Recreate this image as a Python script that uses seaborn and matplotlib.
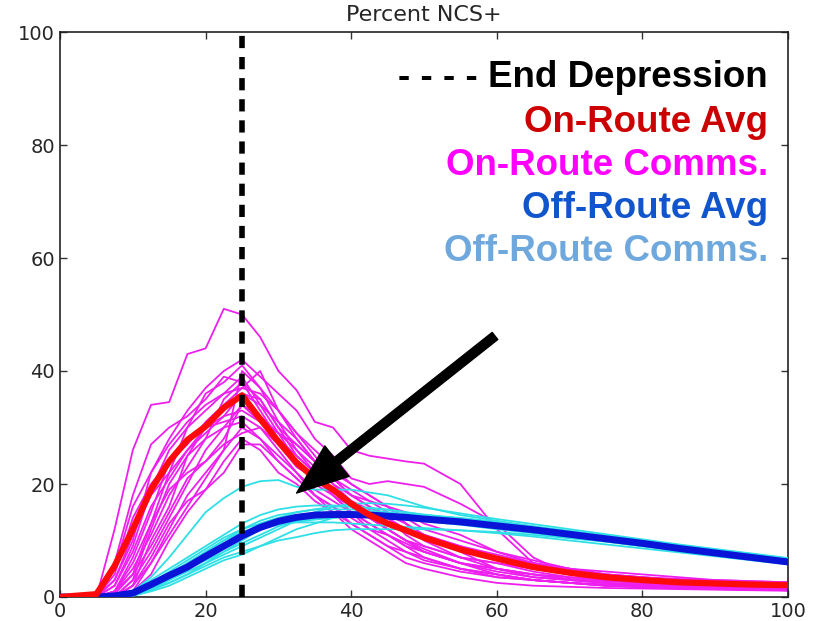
import numpy as np
import pandas as pd
import matplotlib
matplotlib.use("Agg")
import matplotlib.pyplot as plt
import seaborn as sns

# Shared sample positions along the x axis
x_grid = [0, 5, 7.5, 10, 12.5, 15, 17.5, 20, 22.5, 25, 27.5, 30, 32.5, 35, 37.5,
          40, 42.5, 45, 47.5, 50, 55, 60, 65, 70, 75, 80, 85, 90, 95, 100]

on_route_avg = [0, 0.5, 5.5, 12, 19, 24, 27.8, 30.2, 33.5, 35.7, 31.5, 27.5, 23.8, 21, 19,
                16.5, 14.5, 13, 11.8, 10.5, 8.4, 6.8, 5.3, 4.3, 3.5, 3.0, 2.6, 2.4, 2.2, 2.1]

off_route_avg = [0, 0, 0.2, 0.7, 2.2, 3.8, 5.3, 7.2, 9, 10.8, 12.3, 13.4, 14.1, 14.5, 14.6,
                 14.6, 14.5, 14.3, 14.1, 13.8, 13.3, 12.6, 11.9, 11.1, 10.3, 9.5, 8.6, 7.8, 7.0, 6.2]

on_route_comms = [
    [0, 0, 12, 26, 34, 34.5, 43, 44, 51, 50, 46, 40, 36.6, 31, 30, 26, 25, 24.5, 24, 23.6, 20, 12, 6, 4, 3, 2.5, 2.2, 2, 1.8, 1.5],
    [0, 0, 3, 10, 22, 28, 33, 37, 40, 42, 39, 36, 33, 28, 25, 21, 20, 20.5, 20, 19.5, 16.5, 13, 7, 4, 3, 2.8, 2.5, 2.2, 2, 1.8],
    [0, 0, 0.5, 4, 13, 22, 30, 36, 38, 41, 37, 33, 28, 24, 20, 17, 15, 13, 12, 11, 8, 5, 4, 3, 2.5, 2.2, 2, 1.8, 1.6, 1.5],
    [0, 0, 6, 18, 27, 30, 32, 35, 39, 38, 35, 30, 27, 24, 21, 18, 16, 14, 11, 9, 7, 5, 3.5, 3, 2.5, 2, 1.8, 1.5, 1.3, 1.2],
    [0, 0, 1, 7, 15, 24, 27, 31, 34, 37, 40, 33, 29, 25, 21, 19, 17, 15, 13, 10, 7, 6, 5, 4, 3.5, 3, 2.8, 2.5, 2.3, 2],
    [0, 0, 0, 2, 10, 16, 25, 30, 33, 36, 35, 30, 25, 22, 18, 15, 13, 11, 9, 8, 6, 4, 3, 2.5, 2.2, 2, 1.8, 1.6, 1.5, 1.4],
    [0, 0, 2, 9, 19, 26, 30, 33, 36, 39, 34, 29, 24, 20, 18, 16, 14, 12, 10, 8.5, 6, 5, 4, 3.2, 2.8, 2.5, 2.3, 2.1, 2, 1.9],
    [0, 0, 0, 3, 8, 14, 20, 26, 30, 34, 31, 27, 23, 21, 19, 17, 15.5, 14, 12, 11, 9, 7.5, 6, 5, 4, 3.5, 3, 2.8, 2.5, 2.3],
    [0, 0, 4, 14, 20, 24, 28, 30, 31, 32, 30, 26, 22, 19, 17, 15, 13, 11, 9, 7, 5, 4, 3, 2.5, 2, 1.8, 1.6, 1.5, 1.4, 1.3],
    [0, 0, 1, 5, 11, 18, 23, 28, 35, 38, 33, 28, 25, 22, 19, 16, 14, 12, 10, 9, 7, 6, 4.5, 3.5, 3, 2.6, 2.4, 2.2, 2, 1.9],
    [0, 0, 0, 1, 6, 12, 18, 22, 26, 30, 28, 25, 22, 18, 15, 12, 10, 8, 6, 5, 3.5, 2.5, 2, 1.8, 1.6, 1.5, 1.4, 1.3, 1.2, 1.1],
    [0, 0, 2, 8, 16, 21, 26, 29, 32, 33, 31, 29, 27, 24, 22, 20, 18, 16, 13, 11, 9, 7, 6, 5, 4.5, 4, 3.5, 3, 2.8, 2.6],
    [0, 0, 0, 2, 7, 13, 17, 19, 24, 28, 26, 22, 20, 17, 15, 13, 11, 9, 7, 6, 4.5, 3.5, 3, 2.5, 2, 1.8, 1.6, 1.5, 1.3, 1.2],
    [0, 0, 5, 16, 22, 27, 31, 34, 36, 37, 36, 33, 29, 26, 23, 20, 18, 16, 14, 12, 10, 8, 6.5, 5, 4, 3.5, 3.2, 3, 2.8, 2.6],
    [0, 0, 1, 6, 13, 19, 22, 24, 27, 29, 30, 27, 24, 21, 18, 15, 12, 10, 8, 6.5, 5, 3.5, 3, 2.5, 2.2, 2, 1.8, 1.7, 1.6, 1.5],
    [0, 0, 0, 1, 4, 10, 15, 19, 22, 27, 27, 24, 21, 18, 16, 14, 12, 11, 9.5, 8, 6, 5, 4, 3.5, 3, 2.5, 2.2, 2, 1.8, 1.7],
    [0, 0, 3, 11, 18, 22, 26, 30, 32, 36, 34, 31, 28, 24, 21, 18, 16, 14.5, 13, 11, 8.5, 7, 5.5, 4.5, 3.8, 3.2, 2.8, 2.5, 2.3, 2.1],
    [0, 0, 0, 3, 12, 20, 25, 28, 30, 31, 28, 24, 21, 18, 16, 13, 11, 9, 8, 7, 5, 4, 3, 2.5, 2, 1.7, 1.5, 1.4, 1.3, 1.2],
    [0, 0, 1, 4, 9, 15, 21, 24, 28, 34, 32, 29, 26, 23, 20, 18, 17, 16, 15, 13, 11, 8, 6, 5, 4, 3.5, 3, 2.6, 2.4, 2.2],
    [0, 0, 0, 2, 6, 11, 16, 21, 26, 40, 37, 31, 26, 22, 19, 16, 14, 12, 10, 8, 6, 4.5, 3.5, 3, 2.5, 2.2, 2, 1.8, 1.7, 1.6],
]

off_route_comms = [
    [0, 0, 0, 1, 3.5, 7, 11, 15, 17.5, 19.5, 20.5, 20.7, 19.5, 19, 19, 19, 18.5, 18, 17, 16, 14.5, 13.5, 12.5, 11.5, 10.5, 9.8, 8.8, 8, 7.2, 6.5],
    [0, 0, 0, 0.5, 2, 4, 6, 8, 10, 12, 13.5, 14.5, 15, 15.5, 15.5, 15.5, 15.3, 15, 14.7, 14.3, 13.7, 13, 12.2, 11.4, 10.6, 9.8, 8.9, 8, 7.2, 6.4],
    [0, 0, 0, 0.3, 1.5, 3, 5, 7, 9, 11, 13, 14, 15, 15.5, 16, 16, 15.8, 15.5, 15, 14.5, 13.8, 13, 12.3, 11.6, 10.8, 10, 9.1, 8.3, 7.4, 6.6],
    [0, 0, 0, 0.5, 1.5, 2.5, 4, 5.5, 7, 8, 9, 10, 10.6, 11.3, 11.8, 12, 12, 12, 12, 12, 11.8, 11.5, 11, 10.4, 9.8, 9, 8.3, 7.5, 6.8, 6],
    [0, 0, 0, 0.8, 2.5, 4.5, 6.5, 8.5, 10.5, 12, 13, 14, 14.5, 14.8, 15, 15, 14.8, 14.6, 14.3, 14, 13.3, 12.6, 11.8, 11, 10.2, 9.4, 8.5, 7.7, 6.9, 6.1],
    [0, 0, 0, 0.2, 1, 2, 3.5, 5, 6.5, 7.5, 9, 10.5, 12, 13, 14, 14.5, 14.7, 14.7, 14.6, 14.5, 14, 13.3, 12.5, 11.7, 10.8, 10, 9.1, 8.2, 7.3, 6.5],
    [0, 0, 0, 1, 3, 5, 7, 9, 11, 13, 14.5, 15.5, 16, 16.2, 16.2, 16, 15.7, 15.4, 15, 14.6, 13.9, 13.2, 12.4, 11.6, 10.8, 10, 9.2, 8.4, 7.6, 6.8],
    [0, 0, 0, 0.5, 1.8, 3.5, 5, 6.5, 8, 9.5, 11, 12.5, 13.5, 14, 14.3, 14.3, 14.2, 14, 13.7, 13.4, 12.8, 12, 11.3, 10.5, 9.8, 9, 8.2, 7.4, 6.6, 5.9],
    [0, 0, 0, 0.3, 1.2, 2.5, 4, 6, 8, 10, 12, 13, 13.8, 14.3, 14.6, 14.8, 14.8, 14.7, 14.5, 14.2, 13.6, 12.9, 12.1, 11.3, 10.5, 9.7, 8.8, 8, 7.2, 6.4],
    [0, 0, 0, 0.6, 2, 3.5, 5.5, 7.5, 9.5, 11, 12, 12.8, 13.3, 13.7, 14, 14.2, 14.2, 14, 13.8, 13.5, 13, 12.3, 11.5, 10.7, 9.9, 9.1, 8.3, 7.5, 6.7, 5.9],
    [0, 0, 0, 0.4, 1.5, 3, 4.5, 6, 7.5, 9, 10.5, 12, 13.5, 15, 16, 16.5, 16.6, 16.5, 16.2, 15.8, 14.8, 13.8, 12.9, 12, 11.1, 10.2, 9.3, 8.5, 7.7, 6.9],
    [0, 0, 0, 0.7, 2.2, 4, 6, 8, 10, 11.5, 12.5, 13, 13.2, 13.2, 13.2, 13, 12.8, 12.6, 12.4, 12.2, 11.8, 11.3, 10.7, 10, 9.3, 8.6, 7.9, 7.2, 6.5, 5.8],
]

end_depression_x = 25
arrow_tail = (59.75, 46.2)
arrow_head = (32.5, 18.4)

legend_labels = ["- - - - End Depression", "On-Route Avg", "On-Route Comms.",
                 "Off-Route Avg", "Off-Route Comms."]
legend_colors = ["#000000", "#cc0000", "#ff00ff", "#1155cc", "#6fa8dc"]


def long_frame(curves):
    rows = []
    for i, ys in enumerate(curves):
        for xv, yv in zip(x_grid, ys):
            rows.append({"x": xv, "y": yv, "unit": i})
    return pd.DataFrame(rows)


sns.set_style("white")
plt.rcParams["font.family"] = ["DejaVu Sans"]

fig = plt.figure(figsize=(8.15, 6.21), dpi=100)
ax = fig.add_axes([60 / 815, 1 - 597 / 621, 728 / 815, 565 / 621])

sns.lineplot(data=long_frame(on_route_comms), x="x", y="y", units="unit",
             estimator=None, color="#ee1fee", lw=1.3, ax=ax, zorder=2)
sns.lineplot(data=long_frame(off_route_comms), x="x", y="y", units="unit",
             estimator=None, color="#2ee0e6", lw=1.3, ax=ax, zorder=3)
sns.lineplot(x=x_grid, y=off_route_avg, color="#0a14d8", lw=5, ax=ax, zorder=4)
sns.lineplot(x=x_grid, y=on_route_avg, color="#ff0a0a", lw=4.5, ax=ax, zorder=5)

ax.axvline(end_depression_x, color="black", lw=4, ls=(0, (2.2, 1.6)), zorder=6)

ax.annotate("", xy=arrow_head, xytext=arrow_tail,
            arrowprops=dict(facecolor="black", edgecolor="black", width=6.5,
                            headwidth=28, headlength=37),
            zorder=7)

label_y = [91.9, 84.0, 76.4, 68.7, 61.1]
for txt, col, yv in zip(legend_labels, legend_colors, label_y):
    ax.text(97.25, yv, txt, color=col, ha="right", va="center",
            fontsize=26.5, fontweight="bold", family="Liberation Sans", zorder=8)

ax.set_xlim(0, 100)
ax.set_ylim(0, 100)
ax.set_xticks([0, 20, 40, 60, 80, 100])
ax.set_yticks([0, 20, 40, 60, 80, 100])
ax.set_xlabel("")
ax.set_ylabel("")
ax.set_title("Percent NCS+", fontsize=16, pad=8)
ax.tick_params(direction="in", length=5, width=1, labelsize=14,
               top=True, right=True, bottom=True, left=True, color="#333333")
for sp in ax.spines.values():
    sp.set_visible(True)
    sp.set_color("#222222")
    sp.set_linewidth(1.2)

fig.savefig("out.png", dpi=100)
